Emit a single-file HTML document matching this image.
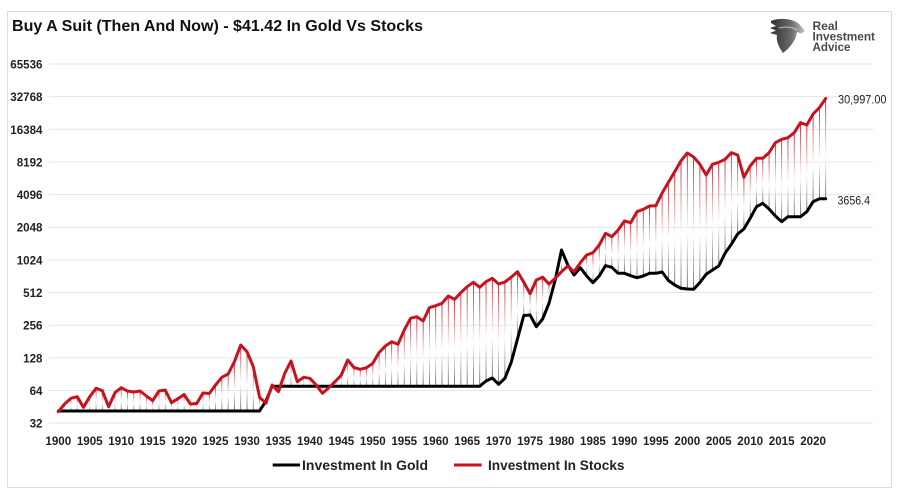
<!DOCTYPE html>
<html><head><meta charset="utf-8"><style>
html,body{margin:0;padding:0;background:#fff;}
svg{display:block;font-family:"Liberation Sans",Arial,sans-serif;}
</style></head><body>
<svg width="907" height="501" viewBox="0 0 907 501" xmlns="http://www.w3.org/2000/svg">
<defs>
<linearGradient id="dg" x1="0" y1="0" x2="0" y2="1">
<stop offset="0" stop-color="#c00010"/>
<stop offset="0.58" stop-color="#ffffff"/>
<stop offset="1" stop-color="#555555"/>
</linearGradient>
<linearGradient id="eg" x1="0" y1="0" x2="1" y2="0">
<stop offset="0" stop-color="#2e2e2e"/>
<stop offset="0.6" stop-color="#6a6a6a"/>
<stop offset="1" stop-color="#c4c4c4"/>
</linearGradient>
</defs>
<rect x="0" y="0" width="907" height="501" fill="#fff"/>
<rect x="7.5" y="11.5" width="884" height="476" fill="#fff" stroke="#dcdcdc" stroke-width="1"/>

<text x="12" y="31" font-size="16" font-weight="bold" fill="#111" textLength="411" lengthAdjust="spacingAndGlyphs">Buy A Suit (Then And Now) - $41.42 In Gold Vs Stocks</text>

<!-- logo -->
<path d="M771,21 C780,17 795,19 800,25 L805,31 L801,33.5 L797,32 C796,40 790,48 783,53 C778,46 776,40 777,35 L770,33 L776,30.5 L770,28 L776,26 L771,23 Z" fill="url(#eg)"/>
<path d="M779,28 C786,26 793,27 797,30" stroke="#fff" stroke-width="1" fill="none" opacity="0.6"/>
<g font-size="12" font-weight="bold" fill="#4a4a4a">
<text x="812.5" y="30">Real</text>
<text x="812.5" y="40.7" textLength="62.5" lengthAdjust="spacingAndGlyphs">Investment</text>
<text x="812.5" y="51.2" textLength="38" lengthAdjust="spacingAndGlyphs">Advice</text>
</g>

<!-- gridlines -->
<g stroke="#e6e6e6" stroke-width="1">
<line x1="49" x2="873" y1="64" y2="64"/>
<line x1="49" x2="873" y1="96.65" y2="96.65"/>
<line x1="49" x2="873" y1="129.3" y2="129.3"/>
<line x1="49" x2="873" y1="161.95" y2="161.95"/>
<line x1="49" x2="873" y1="194.6" y2="194.6"/>
<line x1="49" x2="873" y1="227.25" y2="227.25"/>
<line x1="49" x2="873" y1="259.9" y2="259.9"/>
<line x1="49" x2="873" y1="292.55" y2="292.55"/>
<line x1="49" x2="873" y1="325.2" y2="325.2"/>
<line x1="49" x2="873" y1="357.85" y2="357.85"/>
<line x1="49" x2="873" y1="390.5" y2="390.5"/>
<line x1="49" x2="873" y1="423.15" y2="423.15"/>
</g>

<!-- y labels -->
<g font-size="11.6" font-weight="bold" fill="#222" text-anchor="end">
<text x="42.5" y="68.5">65536</text>
<text x="42.5" y="101.1">32768</text>
<text x="42.5" y="133.8">16384</text>
<text x="42.5" y="166.4">8192</text>
<text x="42.5" y="199.1">4096</text>
<text x="42.5" y="231.7">2048</text>
<text x="42.5" y="264.4">1024</text>
<text x="42.5" y="297">512</text>
<text x="42.5" y="329.7">256</text>
<text x="42.5" y="362.3">128</text>
<text x="42.5" y="395">64</text>
<text x="42.5" y="427.6">32</text>
</g>

<!-- x labels -->
<g font-size="11.6" font-weight="bold" fill="#222" text-anchor="middle">
<text x="58.3" y="445">1900</text>
<text x="89.75" y="445">1905</text>
<text x="121.2" y="445">1910</text>
<text x="152.65" y="445">1915</text>
<text x="184.1" y="445">1920</text>
<text x="215.55" y="445">1925</text>
<text x="247" y="445">1930</text>
<text x="278.45" y="445">1935</text>
<text x="309.9" y="445">1940</text>
<text x="341.35" y="445">1945</text>
<text x="372.8" y="445">1950</text>
<text x="404.25" y="445">1955</text>
<text x="435.7" y="445">1960</text>
<text x="467.15" y="445">1965</text>
<text x="498.6" y="445">1970</text>
<text x="530.05" y="445">1975</text>
<text x="561.5" y="445">1980</text>
<text x="592.95" y="445">1985</text>
<text x="624.4" y="445">1990</text>
<text x="655.85" y="445">1995</text>
<text x="687.3" y="445">2000</text>
<text x="718.75" y="445">2005</text>
<text x="750.2" y="445">2010</text>
<text x="781.65" y="445">2015</text>
<text x="813.1" y="445">2020</text>
</g>

<!-- drop lines -->
<g transform="translate(57.9,0) scale(6.29,1)" fill="url(#dg)">
<rect x="0" y="411" width="0.13" height="0.7"/>
<rect x="1" y="404" width="0.13" height="7"/>
<rect x="2" y="398.3" width="0.13" height="12.7"/>
<rect x="3" y="396.7" width="0.13" height="14.3"/>
<rect x="4" y="407.3" width="0.13" height="3.7"/>
<rect x="5" y="396.7" width="0.13" height="14.3"/>
<rect x="6" y="388.3" width="0.13" height="22.7"/>
<rect x="7" y="390.7" width="0.13" height="20.3"/>
<rect x="8" y="406.7" width="0.13" height="4.3"/>
<rect x="9" y="392.7" width="0.13" height="18.3"/>
<rect x="10" y="387.7" width="0.13" height="23.3"/>
<rect x="11" y="391" width="0.13" height="20"/>
<rect x="12" y="392" width="0.13" height="19"/>
<rect x="13" y="391" width="0.13" height="20"/>
<rect x="14" y="396" width="0.13" height="15"/>
<rect x="15" y="400.7" width="0.13" height="10.3"/>
<rect x="16" y="391" width="0.13" height="20"/>
<rect x="17" y="390" width="0.13" height="21"/>
<rect x="18" y="402.7" width="0.13" height="8.3"/>
<rect x="19" y="398.7" width="0.13" height="12.3"/>
<rect x="20" y="394.5" width="0.13" height="16.5"/>
<rect x="21" y="404" width="0.13" height="7"/>
<rect x="22" y="403.5" width="0.13" height="7.5"/>
<rect x="23" y="393" width="0.13" height="18"/>
<rect x="24" y="393.5" width="0.13" height="17.5"/>
<rect x="25" y="385" width="0.13" height="26"/>
<rect x="26" y="377.3" width="0.13" height="33.7"/>
<rect x="27" y="374" width="0.13" height="37"/>
<rect x="28" y="361.7" width="0.13" height="49.3"/>
<rect x="29" y="345" width="0.13" height="66"/>
<rect x="30" y="351.7" width="0.13" height="59.3"/>
<rect x="31" y="366.7" width="0.13" height="44.3"/>
<rect x="32" y="397.3" width="0.13" height="13.7"/>
<rect x="33" y="401" width="0.13" height="2.3"/>
<rect x="34" y="385" width="0.13" height="1.2"/>
<rect x="35" y="386.2" width="0.13" height="5.5"/>
<rect x="36" y="373.3" width="0.13" height="12.9"/>
<rect x="37" y="361" width="0.13" height="25.2"/>
<rect x="38" y="381.7" width="0.13" height="4.5"/>
<rect x="39" y="377.3" width="0.13" height="8.9"/>
<rect x="40" y="378.3" width="0.13" height="7.9"/>
<rect x="41" y="385" width="0.13" height="1.2"/>
<rect x="42" y="386.2" width="0.13" height="7.1"/>
<rect x="43" y="386.2" width="0.13" height="1.5"/>
<rect x="44" y="381.7" width="0.13" height="4.5"/>
<rect x="45" y="375" width="0.13" height="11.2"/>
<rect x="46" y="360" width="0.13" height="26.2"/>
<rect x="47" y="367.5" width="0.13" height="18.7"/>
<rect x="48" y="369.3" width="0.13" height="16.9"/>
<rect x="49" y="367.7" width="0.13" height="18.5"/>
<rect x="50" y="363.3" width="0.13" height="22.9"/>
<rect x="51" y="352.5" width="0.13" height="33.7"/>
<rect x="52" y="346" width="0.13" height="40.2"/>
<rect x="53" y="341.7" width="0.13" height="44.5"/>
<rect x="54" y="344.3" width="0.13" height="41.9"/>
<rect x="55" y="330" width="0.13" height="56.2"/>
<rect x="56" y="318.3" width="0.13" height="67.9"/>
<rect x="57" y="316.7" width="0.13" height="69.5"/>
<rect x="58" y="321" width="0.13" height="65.2"/>
<rect x="59" y="307.7" width="0.13" height="78.5"/>
<rect x="60" y="305.7" width="0.13" height="80.5"/>
<rect x="61" y="303.3" width="0.13" height="82.9"/>
<rect x="62" y="296" width="0.13" height="90.2"/>
<rect x="63" y="299.3" width="0.13" height="86.9"/>
<rect x="64" y="292.7" width="0.13" height="93.5"/>
<rect x="65" y="286.7" width="0.13" height="99.5"/>
<rect x="66" y="282.3" width="0.13" height="103.9"/>
<rect x="67" y="287.3" width="0.13" height="98.9"/>
<rect x="68" y="281.7" width="0.13" height="99.3"/>
<rect x="69" y="278.3" width="0.13" height="99.7"/>
<rect x="70" y="284" width="0.13" height="100.3"/>
<rect x="71" y="282" width="0.13" height="96.3"/>
<rect x="72" y="277.2" width="0.13" height="85.3"/>
<rect x="73" y="271.7" width="0.13" height="67.3"/>
<rect x="74" y="282.2" width="0.13" height="33.3"/>
<rect x="75" y="293.7" width="0.13" height="21.3"/>
<rect x="76" y="280" width="0.13" height="46.7"/>
<rect x="77" y="277.2" width="0.13" height="41.8"/>
<rect x="78" y="284" width="0.13" height="19.5"/>
<rect x="79" y="278.3" width="0.13" height="1.7"/>
<rect x="80" y="250" width="0.13" height="21.7"/>
<rect x="81" y="265" width="0.13" height="1"/>
<rect x="82" y="271.7" width="0.13" height="3.3"/>
<rect x="83" y="262.7" width="0.13" height="5"/>
<rect x="84" y="255" width="0.13" height="21"/>
<rect x="85" y="252.7" width="0.13" height="30"/>
<rect x="86" y="245" width="0.13" height="31"/>
<rect x="87" y="233.3" width="0.13" height="32.4"/>
<rect x="88" y="236.7" width="0.13" height="30.6"/>
<rect x="89" y="230" width="0.13" height="43.3"/>
<rect x="90" y="221" width="0.13" height="52.3"/>
<rect x="91" y="222.7" width="0.13" height="53"/>
<rect x="92" y="211.7" width="0.13" height="66"/>
<rect x="93" y="209.3" width="0.13" height="66.7"/>
<rect x="94" y="206" width="0.13" height="67.3"/>
<rect x="95" y="205.7" width="0.13" height="67.6"/>
<rect x="96" y="193" width="0.13" height="79"/>
<rect x="97" y="182.2" width="0.13" height="98.3"/>
<rect x="98" y="171.7" width="0.13" height="113.3"/>
<rect x="99" y="160.8" width="0.13" height="127.5"/>
<rect x="100" y="153" width="0.13" height="136"/>
<rect x="101" y="157" width="0.13" height="132.3"/>
<rect x="102" y="164.2" width="0.13" height="118.3"/>
<rect x="103" y="175" width="0.13" height="99.3"/>
<rect x="104" y="164.3" width="0.13" height="105.7"/>
<rect x="105" y="162.3" width="0.13" height="103.7"/>
<rect x="106" y="159.3" width="0.13" height="94"/>
<rect x="107" y="152.7" width="0.13" height="91.6"/>
<rect x="108" y="155" width="0.13" height="79"/>
<rect x="109" y="177.3" width="0.13" height="51.7"/>
<rect x="110" y="166" width="0.13" height="52.3"/>
<rect x="111" y="158.3" width="0.13" height="48.4"/>
<rect x="112" y="158.3" width="0.13" height="45"/>
<rect x="113" y="152.7" width="0.13" height="56.3"/>
<rect x="114" y="142.7" width="0.13" height="73.3"/>
<rect x="115" y="139.3" width="0.13" height="82.4"/>
<rect x="116" y="137.7" width="0.13" height="79"/>
<rect x="117" y="132.7" width="0.13" height="84"/>
<rect x="118" y="122.7" width="0.13" height="94"/>
<rect x="119" y="125" width="0.13" height="86.7"/>
<rect x="120" y="114" width="0.13" height="87.7"/>
<rect x="121" y="107.7" width="0.13" height="91.1"/>
<rect x="122" y="98.5" width="0.13" height="100.3"/>
</g>

<!-- series -->
<g transform="translate(58.3,0) scale(6.29,1)" fill="none" stroke-linejoin="round" stroke-linecap="round">
<polyline vector-effect="non-scaling-stroke" stroke="#000" stroke-width="3" points="0,411 32,411 33,401 34,386.2 67,386.2 68,381 69,378 70,384.3 71,378.3 72,362.5 73,339 74,315.5 75,315 76,326.7 77,319 78,303.5 79,280 80,250 81,265 82,275 83,267.7 84,276 85,282.7 86,276 87,265.7 88,267.3 89,273.3 90,273.3 91,275.7 92,277.7 93,276 94,273.3 95,273.3 96,272 97,280.5 98,285 99,288.3 100,289 101,289.3 102,282.5 103,274.3 104,270 105,266 106,253.3 107,244.3 108,234 109,229 110,218.3 111,206.7 112,203.3 113,209 114,216 115,221.7 116,216.7 117,216.7 118,216.7 119,211.7 120,201.7 121,198.8 122,198.8"/>
<polyline vector-effect="non-scaling-stroke" stroke="#c8131f" stroke-width="3" points="0,411.7 1,404 2,398.3 3,396.7 4,407.3 5,396.7 6,388.3 7,390.7 8,406.7 9,392.7 10,387.7 11,391 12,392 13,391 14,396 15,400.7 16,391 17,390 18,402.7 19,398.7 20,394.5 21,404 22,403.5 23,393 24,393.5 25,385 26,377.3 27,374 28,361.7 29,345 30,351.7 31,366.7 32,397.3 33,403.3 34,385 35,391.7 36,373.3 37,361 38,381.7 39,377.3 40,378.3 41,385 42,393.3 43,387.7 44,381.7 45,375 46,360 47,367.5 48,369.3 49,367.7 50,363.3 51,352.5 52,346 53,341.7 54,344.3 55,330 56,318.3 57,316.7 58,321 59,307.7 60,305.7 61,303.3 62,296 63,299.3 64,292.7 65,286.7 66,282.3 67,287.3 68,281.7 69,278.3 70,284 71,282 72,277.2 73,271.7 74,282.2 75,293.7 76,280 77,277.2 78,284 79,278.3 80,271.7 81,266 82,271.7 83,262.7 84,255 85,252.7 86,245 87,233.3 88,236.7 89,230 90,221 91,222.7 92,211.7 93,209.3 94,206 95,205.7 96,193 97,182.2 98,171.7 99,160.8 100,153 101,157 102,164.2 103,175 104,164.3 105,162.3 106,159.3 107,152.7 108,155 109,177.3 110,166 111,158.3 112,158.3 113,152.7 114,142.7 115,139.3 116,137.7 117,132.7 118,122.7 119,125 120,114 121,107.7 122,98.5"/>
</g>

<!-- end labels -->
<g font-size="11.6" fill="#222">
<text x="838" y="103.3" textLength="48.5" lengthAdjust="spacingAndGlyphs">30,997.00</text>
<text x="837.5" y="204.3" textLength="32.5" lengthAdjust="spacingAndGlyphs">3656.4</text>
</g>

<!-- legend -->
<line x1="272.7" y1="465" x2="300" y2="465" stroke="#000" stroke-width="3"/>
<text x="302" y="470" font-size="14" font-weight="bold" fill="#222" textLength="126" lengthAdjust="spacingAndGlyphs">Investment In Gold</text>
<line x1="454" y1="465" x2="481.7" y2="465" stroke="#c8131f" stroke-width="3"/>
<text x="488" y="470" font-size="14" font-weight="bold" fill="#222" textLength="136.5" lengthAdjust="spacingAndGlyphs">Investment In Stocks</text>
</svg>
</body></html>
